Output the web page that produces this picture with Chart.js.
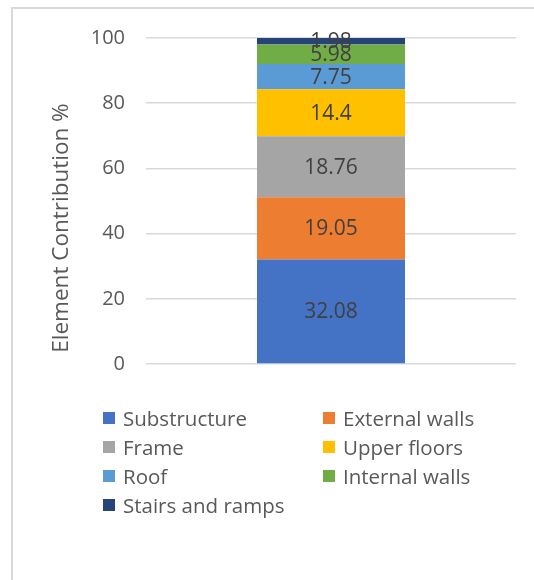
<!DOCTYPE html>
<html>
<head>
<meta charset="utf-8">
<script src="https://cdn.jsdelivr.net/npm/chart.js@4/dist/chart.umd.min.js"></script>
<style>
  html, body { margin: 0; padding: 0; background: #fff; }
  #wrap { position: relative; width: 534px; height: 580px; overflow: hidden; }
  #frame { position: absolute; left: 11px; top: 7px; width: 600px; height: 600px;
           border-left: 2px solid #d9d9d9; border-top: 2px solid #d9d9d9; box-sizing: border-box; }
  #chart { position: absolute; left: 0; top: 0; }
  #legend { position: absolute; left: 0; top: 0; width: 534px; height: 580px; pointer-events: none;
            font-family: "Open Sans", sans-serif; font-size: 20.5px; color: #595959; }
  .item { position: absolute; display: flex; align-items: center; height: 28px; white-space: nowrap; }
  .box { width: 12px; height: 12px; margin-right: 8px; }
</style>
</head>
<body>
<div id="wrap">
  <div id="frame"></div>
  <canvas id="chart" width="534" height="580"></canvas>
  <div id="legend"></div>
</div>
<script>
// Building elements and their share of the total, in percent
const categories = [''];
const elements = ['Substructure', 'External walls', 'Frame', 'Upper floors', 'Roof', 'Internal walls', 'Stairs and ramps'];
const contributions = [32.08, 19.05, 18.76, 14.4, 7.75, 5.98, 1.98];
const colors = ['#4472C4', '#ED7D31', '#A5A5A5', '#FFC000', '#5B9BD5', '#70AD47', '#264478'];
const yTicks = [0, 20, 40, 60, 80, 100];
const yTitle = 'Element Contribution %';

const FONT = '"Open Sans", sans-serif';

// Write each segment's value in the middle of its block
const segmentLabels = {
  id: 'segmentLabels',
  afterDatasetsDraw(chart) {
    const ctx = chart.ctx;
    ctx.save();
    ctx.font = '21px ' + FONT;
    ctx.fillStyle = '#404040';
    ctx.textAlign = 'center';
    ctx.textBaseline = 'middle';
    chart.data.datasets.forEach((ds, i) => {
      const meta = chart.getDatasetMeta(i);
      meta.data.forEach((bar, j) => {
        const mid = (bar.y + bar.base) / 2;
        ctx.fillText(String(ds.data[j]), bar.x, mid + 1);
      });
    });
    ctx.restore();
  }
};

// Rotated value-axis title, sitting a little below the plot's middle
const axisTitle = {
  id: 'axisTitle',
  afterDraw(chart) {
    const ctx = chart.ctx;
    const area = chart.chartArea;
    ctx.save();
    ctx.translate(62, (area.top + area.bottom) / 2 + 27);
    ctx.rotate(-Math.PI / 2);
    ctx.font = '22.5px ' + FONT;
    ctx.fillStyle = '#595959';
    ctx.textAlign = 'center';
    ctx.textBaseline = 'middle';
    ctx.fillText(yTitle, 0, 0);
    ctx.restore();
  }
};

const chart = new Chart(document.getElementById('chart'), {
  type: 'bar',
  data: {
    labels: categories,
    datasets: elements.map((name, i) => ({
      label: name,
      data: [contributions[i]],
      backgroundColor: colors[i],
      borderWidth: 0,
      categoryPercentage: 1,
      barPercentage: 0.4
    }))
  },
  options: {
    responsive: false,
    animation: false,
    layout: { padding: { left: 45, top: 38, right: 18, bottom: 216 } },
    plugins: { legend: { display: false }, tooltip: { enabled: false } },
    scales: {
      x: { stacked: true, display: false },
      y: {
        stacked: true,
        min: 0,
        max: 100,
        afterBuildTicks(scale) { scale.ticks = yTicks.map(v => ({ value: v })); },
        afterFit(scale) { scale.width = 101; },
        border: { display: false },
        grid: { color: '#d9d9d9', lineWidth: 1.5, drawTicks: false },
        ticks: { padding: 21, color: '#595959', font: { family: FONT, size: 20 } },
        title: { display: false }
      }
    }
  },
  plugins: [segmentLabels, axisTitle]
});

// Two-column legend under the plot
const legend = document.getElementById('legend');
const colX = [103, 323];
const rowY = [404, 433, 462, 491];
chart.data.datasets.forEach((ds, i) => {
  const item = document.createElement('div');
  item.className = 'item';
  item.style.left = colX[i % 2] + 'px';
  item.style.top = rowY[Math.floor(i / 2)] + 'px';
  const box = document.createElement('span');
  box.className = 'box';
  box.style.background = ds.backgroundColor;
  const txt = document.createElement('span');
  txt.textContent = ds.label;
  item.appendChild(box);
  item.appendChild(txt);
  legend.appendChild(item);
});
</script>
</body>
</html>
